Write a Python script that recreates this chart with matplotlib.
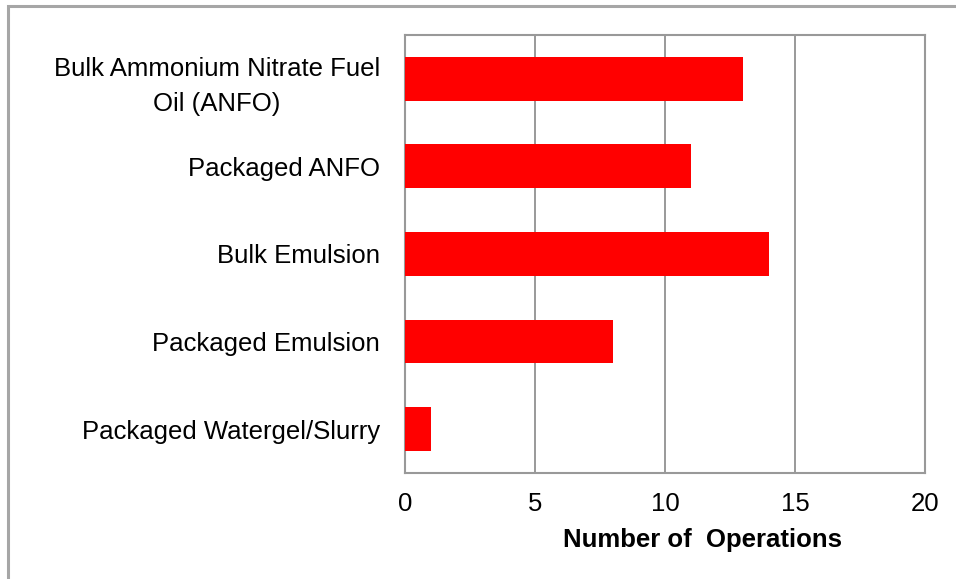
import matplotlib.pyplot as plt
from matplotlib.patches import Rectangle

categories = ['Bulk Ammonium Nitrate Fuel\nOil (ANFO)', 'Packaged ANFO', 'Bulk Emulsion',
              'Packaged Emulsion', 'Packaged Watergel/Slurry']
operations = [13, 11, 14, 8, 1]
xticks = [0, 5, 10, 15, 20]

plt.rcParams['font.family'] = ['Liberation Sans', 'DejaVu Sans']

fig = plt.figure(figsize=(9.56, 5.79), dpi=100)
fig.patches.append(Rectangle((0.0084, -0.1), 1.2, 1.0896, transform=fig.transFigure,
                             fill=False, edgecolor='#a6a6a6', linewidth=2.2))

ax = fig.add_axes([0.4236, 0.1831, 0.5440, 0.7565])
y = list(range(len(categories)))[::-1]
ax.barh(y, operations, height=0.5, color='#ff0000', zorder=3)

ax.set_xlim(0, 20)
ax.set_ylim(-0.5, len(categories) - 0.5)
ax.set_xticks(xticks)
ax.set_xticklabels([str(t) for t in xticks], fontsize=18.5)
ax.set_yticks(y)
ax.set_yticklabels(categories, fontsize=18.5, ha='center', linespacing=1.55)
ax.tick_params(length=0)
ax.tick_params(axis='x', pad=14)
ax.tick_params(axis='y', pad=0)
fig.canvas.draw()
# centre multi-line labels on their own width, right aligned to x=380px
r = fig.canvas.get_renderer()
for lab in ax.get_yticklabels():
    w = lab.get_window_extent(r).width
    lab.set_x(-(25 + w / 2) / (0.5440 * 956))
    lab.set_transform(ax.get_yaxis_transform())
ax.xaxis.grid(True, color='#888888', linewidth=1.2, zorder=0)
for s in ax.spines.values():
    s.set_color('#999999')
    s.set_linewidth(1.5)
ax.set_xlabel('Number of  Operations', fontsize=18.5, fontweight='bold')
ax.xaxis.set_label_coords(0.573, -0.125)

fig.savefig('out.png', dpi=100)
